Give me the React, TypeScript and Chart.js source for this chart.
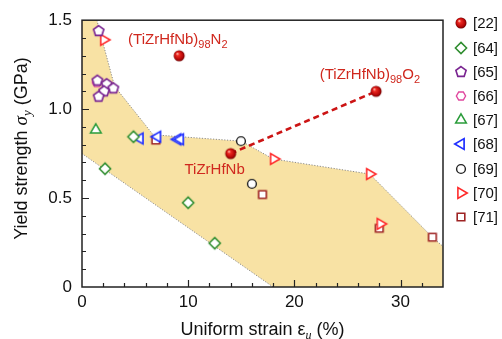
import React, { useEffect, useRef } from 'react';
import { Chart, registerables } from 'chart.js';

Chart.register(...registerables);

// ---------- data ----------
const refLabels = ['[22]', '[64]', '[65]', '[66]', '[67]', '[68]', '[69]', '[70]', '[71]'];

const ref22X = [9.15, 14.0, 27.7];
const ref22Y = [1.30, 0.75, 1.10];
const ref64X = [4.85, 2.17, 10.0, 12.5];
const ref64Y = [0.845, 0.665, 0.474, 0.246];
const ref65X = [1.57, 1.45, 2.33, 2.95, 2.08, 1.57];
const ref65Y = [1.439, 1.16, 1.14, 1.117, 1.10, 1.07];
const ref66X = [1.4];
const ref66Y = [1.15];
const ref67X = [1.3];
const ref67Y = [0.883];
const ref68X = [5.45, 7.1, 9.0, 9.25];
const ref68Y = [0.835, 0.845, 0.83, 0.83];
const ref69X = [14.97, 16.0];
const ref69Y = [0.82, 0.58];
const ref70X = [2.05, 18.05, 27.1, 28.1];
const ref70Y = [1.39, 0.72, 0.635, 0.355];
const ref71X = [6.95, 17.0, 28.0, 33.0];
const ref71Y = [0.826, 0.52, 0.33, 0.28];

// dashed trend between TiZrHfNb and (TiZrHfNb)98O2
const dashX = [14.0, 27.7];
const dashY = [0.75, 1.10];

// shaded region boundaries
const upperX = [1.4, 3.07, 6.7, 15.0, 18.0, 27.1, 33.0, 34.0];
const upperY = [1.5, 1.128, 0.856, 0.82, 0.72, 0.635, 0.28, 0.228];
const lowerX = [18.0, 0];
const lowerY = [0, 0.75];

const xTicks = [0, 10, 20, 30];
const yTicks = [0, 0.5, 1.0, 1.5];

// annotation anchors (data coords, left baseline)
const annN2 = { x: 4.34, y: 1.364 };
const annO2 = { x: 22.39, y: 1.167 };
const annBase = { x: 9.65, y: 0.633 };

// ---------- style ----------
const SANS = "'Liberation Sans', Arial, Helvetica, sans-serif";
const SERIF = "'Liberation Serif', 'Times New Roman', serif";
const AXIS = '#222';
const TEXT = '#111';
const RED_TEXT = '#d0281e';
const FILL = '#f8e2a4';

function makeMarker(kind: string, color: string, r: number, lw: number): HTMLCanvasElement {
  let size = Math.ceil(r * 2 + lw + 4);
  if (size % 2) size += 1;
  const c = document.createElement('canvas');
  c.width = size;
  c.height = size;
  const ctx = c.getContext('2d') as CanvasRenderingContext2D;
  const cx = size / 2;
  const cy = size / 2;
  ctx.lineWidth = lw;
  ctx.strokeStyle = color;
  ctx.fillStyle = '#fff';
  ctx.lineJoin = 'miter';
  const poly = (n: number, start: number) => {
    ctx.beginPath();
    for (let i = 0; i < n; i++) {
      const a = start + (i * 2 * Math.PI) / n;
      const px = cx + r * Math.cos(a);
      const py = cy + r * Math.sin(a);
      if (i === 0) ctx.moveTo(px, py);
      else ctx.lineTo(px, py);
    }
    ctx.closePath();
  };
  if (kind === 'sphere') {
    const g = ctx.createRadialGradient(cx - r * 0.35, cy - r * 0.4, 0.3, cx, cy, r);
    g.addColorStop(0, '#ffc4b8');
    g.addColorStop(0.25, '#ee2a22');
    g.addColorStop(0.75, '#b80808');
    g.addColorStop(1, '#6e0000');
    ctx.beginPath();
    ctx.arc(cx, cy, r, 0, Math.PI * 2);
    ctx.fillStyle = g;
    ctx.fill();
    return c;
  }
  if (kind === 'circle') {
    ctx.beginPath();
    ctx.arc(cx, cy, r, 0, Math.PI * 2);
  } else if (kind === 'square') {
    ctx.beginPath();
    ctx.rect(cx - r, cy - r, 2 * r, 2 * r);
  } else if (kind === 'diamond') {
    poly(4, -Math.PI / 2);
  } else if (kind === 'pentagon') {
    poly(5, -Math.PI / 2);
  } else if (kind === 'hexagon') {
    poly(6, 0);
  } else if (kind === 'triUp') {
    poly(3, -Math.PI / 2);
  } else if (kind === 'triLeft') {
    poly(3, Math.PI);
  } else if (kind === 'triRight') {
    poly(3, 0);
  }
  ctx.fill();
  ctx.stroke();
  return c;
}

type Part = { t: string; font: string; dy?: number };

function richWidth(ctx: CanvasRenderingContext2D, parts: Part[]) {
  let w = 0;
  for (const p of parts) {
    ctx.font = p.font;
    w += ctx.measureText(p.t).width;
  }
  return w;
}

function drawRich(ctx: CanvasRenderingContext2D, parts: Part[], x: number, y: number) {
  let cx = x;
  for (const p of parts) {
    ctx.font = p.font;
    ctx.fillText(p.t, cx, y + (p.dy || 0));
    cx += ctx.measureText(p.t).width;
  }
}

const regionPlugin = {
  id: 'region',
  beforeDatasetsDraw(chart: any) {
    const { ctx, chartArea: a, scales } = chart;
    const xs = scales.x;
    const ys = scales.y;
    const px = (v: number) => xs.getPixelForValue(v);
    const py = (v: number) => ys.getPixelForValue(v);
    ctx.save();
    ctx.beginPath();
    ctx.rect(a.left, a.top, a.right - a.left, a.bottom - a.top);
    ctx.clip();
    ctx.beginPath();
    ctx.moveTo(px(0), py(1.5));
    upperX.forEach((v, i) => ctx.lineTo(px(v), py(upperY[i])));
    ctx.lineTo(px(34), py(0));
    lowerX.forEach((v, i) => ctx.lineTo(px(v), py(lowerY[i])));
    ctx.closePath();
    ctx.fillStyle = FILL;
    ctx.fill();
    ctx.setLineDash([1.2, 1.6]);
    ctx.strokeStyle = '#8c8c8c';
    ctx.lineWidth = 1;
    ctx.beginPath();
    upperX.forEach((v, i) => (i === 0 ? ctx.moveTo(px(v), py(upperY[i])) : ctx.lineTo(px(v), py(upperY[i]))));
    ctx.stroke();
    ctx.beginPath();
    lowerX.forEach((v, i) => (i === 0 ? ctx.moveTo(px(v), py(lowerY[i])) : ctx.lineTo(px(v), py(lowerY[i]))));
    ctx.stroke();
    ctx.restore();
  },
};

function makeOverlay(markers: HTMLCanvasElement[]) {
  return {
    id: 'overlay',
    afterDraw(chart: any) {
      const { ctx, chartArea: a, scales } = chart;
      const xs = scales.x;
      const ys = scales.y;
      ctx.save();
      // inward ticks
      ctx.strokeStyle = AXIS;
      ctx.lineWidth = 1.2;
      ctx.beginPath();
      for (let i = 1; i <= 16; i++) {
        const v = i * 2;
        const p = Math.round(xs.getPixelForValue(v)) + 0.5;
        const len = v % 10 === 0 ? 7 : 4;
        ctx.moveTo(p, a.bottom);
        ctx.lineTo(p, a.bottom - len);
      }
      for (let i = 1; i <= 14; i++) {
        const p = Math.round(ys.getPixelForValue(i / 10)) + 0.5;
        const len = i % 5 === 0 ? 7 : 4;
        ctx.moveTo(a.left, p);
        ctx.lineTo(a.left + len, p);
      }
      ctx.stroke();
      // frame
      ctx.lineWidth = 1.5;
      ctx.strokeRect(a.left, a.top, a.right - a.left, a.bottom - a.top);

      // annotations
      ctx.fillStyle = RED_TEXT;
      ctx.textAlign = 'left';
      ctx.textBaseline = 'alphabetic';
      const big = `15px ${SANS}`;
      const small = `11px ${SANS}`;
      drawRich(
        ctx,
        [
          { t: '(TiZrHfNb)', font: big },
          { t: '98', font: small, dy: 4 },
          { t: 'N', font: big },
          { t: '2', font: small, dy: 4 },
        ],
        xs.getPixelForValue(annN2.x),
        ys.getPixelForValue(annN2.y)
      );
      drawRich(
        ctx,
        [
          { t: '(TiZrHfNb)', font: big },
          { t: '98', font: small, dy: 4 },
          { t: 'O', font: big },
          { t: '2', font: small, dy: 4 },
        ],
        xs.getPixelForValue(annO2.x),
        ys.getPixelForValue(annO2.y)
      );
      drawRich(ctx, [{ t: 'TiZrHfNb', font: big }], xs.getPixelForValue(annBase.x), ys.getPixelForValue(annBase.y));

      // axis titles
      ctx.fillStyle = TEXT;
      const xt: Part[] = [
        { t: 'Uniform strain \u03b5', font: `18px ${SANS}` },
        { t: 'u', font: `italic 12px ${SERIF}`, dy: 4 },
        { t: ' (%)', font: `18px ${SANS}` },
      ];
      const xw = richWidth(ctx, xt);
      drawRich(ctx, xt, (a.left + a.right) / 2 - xw / 2, 335);

      const yt: Part[] = [
        { t: 'Yield strength ', font: `18px ${SANS}` },
        { t: '\u03c3', font: `italic 19px ${SERIF}` },
        { t: 'y', font: `italic 13px ${SERIF}`, dy: 4 },
        { t: ' (GPa)', font: `18px ${SANS}` },
      ];
      const yw = richWidth(ctx, yt);
      ctx.save();
      ctx.translate(27, (a.top + a.bottom) / 2 - 5);
      ctx.rotate(-Math.PI / 2);
      drawRich(ctx, yt, -yw / 2, 0);
      ctx.restore();

      // legend
      ctx.font = `15px ${SANS}`;
      ctx.textBaseline = 'middle';
      ctx.fillStyle = TEXT;
      refLabels.forEach((lab, i) => {
        const cy = 23.3 + 24.2 * i;
        const m = markers[i];
        ctx.drawImage(m, Math.round(460.5 - m.width / 2), Math.round(cy - m.height / 2));
        ctx.fillText(lab, 473, cy + 1);
      });
      ctx.restore();
    },
  };
}

export default function App() {
  const ref = useRef<HTMLCanvasElement | null>(null);

  useEffect(() => {
    if (!ref.current) return;
    const markers = [
      makeMarker('sphere', '#c00', 5.5, 0),
      makeMarker('diamond', '#2d8c2d', 5.6, 1.5),
      makeMarker('pentagon', '#7a2591', 5.4, 1.6),
      makeMarker('hexagon', '#e0479e', 4.6, 1.4),
      makeMarker('triUp', '#2a9c3a', 6.2, 1.5),
      makeMarker('triLeft', '#2030ff', 6.2, 1.7),
      makeMarker('circle', '#222', 4.4, 1.4),
      makeMarker('triRight', '#ff2a2a', 6.2, 1.6),
      makeMarker('square', '#9e2424', 3.8, 1.6),
    ];
    const xsAll = [ref22X, ref64X, ref65X, ref66X, ref67X, ref68X, ref69X, ref70X, ref71X];
    const ysAll = [ref22Y, ref64Y, ref65Y, ref66Y, ref67Y, ref68Y, ref69Y, ref70Y, ref71Y];

    const datasets: any[] = refLabels.map((lab, k) => ({
      label: lab,
      data: xsAll[k].map((x, i) => ({ x, y: ysAll[k][i] })),
      pointStyle: markers[k],
      pointRadius: 5,
      pointHoverRadius: 5,
      showLine: false,
      order: 0,
    }));
    datasets.push({
      label: 'trend',
      data: dashX.map((x, i) => ({ x, y: dashY[i] })),
      showLine: true,
      borderColor: '#cc1414',
      borderWidth: 2.6,
      borderDash: [6, 4],
      pointRadius: 0,
      fill: false,
      order: 1,
    });

    const tickFont = { family: SANS, size: 17 };
    const chart = new Chart(ref.current, {
      type: 'scatter',
      data: { datasets },
      options: {
        animation: false,
        responsive: true,
        maintainAspectRatio: false,
        events: [],
        layout: { padding: { top: 17, right: 59, bottom: 0, left: 0 } },
        plugins: { legend: { display: false }, tooltip: { enabled: false } },
        scales: {
          x: {
            type: 'linear',
            min: 0,
            max: 34,
            grid: { display: false, drawTicks: false },
            border: { display: false },
            ticks: { padding: 5, font: tickFont, color: TEXT, maxRotation: 0, callback: (v: any) => String(v) },
            afterBuildTicks: (s: any) => {
              s.ticks = xTicks.map((v) => ({ value: v }));
            },
            afterFit: (s: any) => {
              s.height = 52;
            },
          },
          y: {
            type: 'linear',
            min: 0,
            max: 1.5,
            grid: { display: false, drawTicks: false },
            border: { display: false },
            ticks: {
              padding: 10,
              font: tickFont,
              color: TEXT,
              callback: (v: any) => (Number(v) === 0 ? '0' : Number(v).toFixed(1)),
            },
            afterBuildTicks: (s: any) => {
              s.ticks = yTicks.map((v) => ({ value: v }));
            },
            afterFit: (s: any) => {
              s.width = 82;
            },
          },
        },
      } as any,
      plugins: [regionPlugin, makeOverlay(markers)],
    });
    return () => chart.destroy();
  }, []);

  return (
    <div style={{ position: 'fixed', left: 0, top: 0, width: 502, height: 339, background: '#fff' }}>
      <canvas ref={ref} />
    </div>
  );
}
